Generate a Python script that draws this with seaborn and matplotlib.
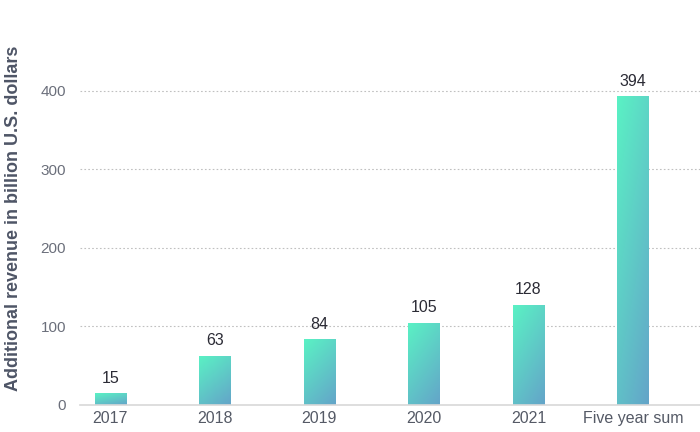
import numpy as np
import pandas as pd
import seaborn as sns
import matplotlib.pyplot as plt
from matplotlib.colors import LinearSegmentedColormap

categories = ['2017', '2018', '2019', '2020', '2021', 'Five year sum']
revenue = [15, 63, 84, 105, 128, 394]
y_ticks = [0, 100, 200, 300, 400]

sns.set_style('white')
plt.rcParams['font.family'] = ['Liberation Sans', 'DejaVu Sans']

df = pd.DataFrame({'cat': categories, 'rev': revenue})

fig = plt.figure(figsize=(7, 4.32), dpi=100)
ax = fig.add_axes([80 / 700, 27 / 432, 620 / 700, 369 / 432])

sns.barplot(data=df, x='cat', y='rev', ax=ax, width=0.3, color='#5ce8c4')

# gradient fill inside each bar
cmap = LinearSegmentedColormap.from_list('g', ['#5af2c4', '#64a4c9'])
gx, gy = np.meshgrid(np.linspace(0, 1, 64), np.linspace(0, 1, 256))
grad = 0.35 * gx + 0.65 * gy
for p in ax.patches:
    x0, w, h = p.get_x(), p.get_width(), p.get_height()
    p.set_facecolor('none')
    p.set_edgecolor('none')
    im = ax.imshow(grad, cmap=cmap, aspect='auto', origin='upper',
                   extent=[x0, x0 + w, 0, h], zorder=2)
    im.set_clip_path(p)
    ax.text(x0 + w / 2, h + 9, f'{h:.0f}', ha='center', va='bottom',
            fontsize=11.5, color='#2b2b35')

ax.set_xlim(-0.29, 5.64)
ax.set_ylim(0, 470)
ax.set_yticks(y_ticks)
ax.set_yticklabels([str(t) for t in y_ticks], color='#6b6f7b', fontsize=11)
ax.tick_params(axis='x', colors='#555a66', labelsize=11.5, length=0, pad=4)
ax.tick_params(axis='y', length=0, pad=10)
for t in y_ticks[1:]:
    ax.axhline(t, color='#c0c0c0', lw=0.8, ls=(0, (1.5, 2)), zorder=0)

for s in ['top', 'right', 'left']:
    ax.spines[s].set_visible(False)
ax.spines['bottom'].set_color('#d8d8d8')
ax.spines['bottom'].set_linewidth(1.2)

ax.set_xlabel('')
ax.set_ylabel('Additional revenue in billion U.S. dollars', fontsize=13,
              fontweight='bold', color='#4e5566')
ax.yaxis.set_label_coords(-0.094, 0.505)

fig.savefig('out.png', dpi=100)
